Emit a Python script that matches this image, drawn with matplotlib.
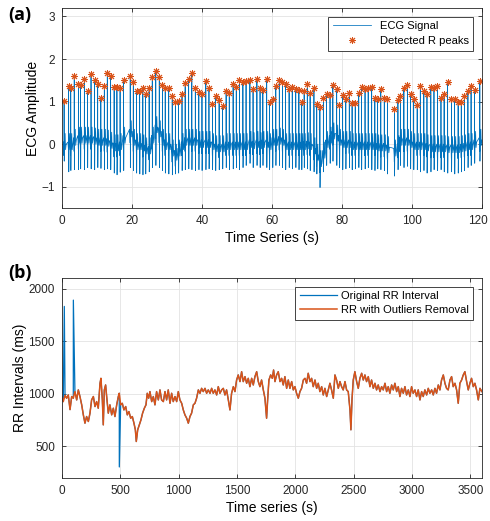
import numpy as np
import matplotlib
matplotlib.use('Agg')
import matplotlib.pyplot as plt
import matplotlib.transforms as mtransforms

plt.rcParams['font.family'] = ['Liberation Sans', 'DejaVu Sans']

# (a) ECG: detected R peaks, baseline and S-wave dip per beat
r_t = [0.6, 1.9, 2.5, 3.5, 4.7, 5.3, 6.4, 7.3, 8.3, 9.3, 10.2, 11.1, 12.1, 12.95,
       13.9, 14.9, 15.7, 16.6, 17.6, 19.5, 20.4, 21.3, 22.2, 23.1, 23.9,
       24.9, 25.8, 26.8, 27.8, 28.7, 29.5, 30.5, 31.5, 32.4, 33.3,
       34.3, 35.2, 36.2, 37.1, 38.1, 39.1, 40.0, 41.1, 42.0, 43.0,
       43.9, 44.9, 45.9, 46.9, 47.8, 48.9, 49.8, 50.7, 51.7,
       52.6, 53.7, 54.6, 55.7, 56.6, 57.4, 58.5, 59.3,
       60.2, 61.1, 62.1, 63.0, 63.9, 64.9, 65.8, 66.8, 67.7,
       68.5, 69.2, 70.1, 70.9, 72.0, 72.8, 73.7, 74.7, 75.6,
       76.6, 77.4, 78.5, 79.3, 80.2, 81.1, 82.1, 82.9, 83.8,
       84.8, 85.6, 86.6, 87.5, 88.5, 89.4, 90.2, 91.1, 92.1,
       93.0, 95.0, 96.0, 96.7, 97.7, 98.7, 99.6, 100.5,
       101.5, 102.4, 103.4, 104.3, 105.4, 106.3, 107.3, 108.3, 109.2,
       110.2, 111.3, 112.2, 113.2, 114.1, 115.0, 116.0, 116.9, 117.9, 119.4]
r_amp = [1.02, 1.37, 1.33, 1.61, 1.41, 1.39, 1.53, 1.25, 1.65, 1.50, 1.41, 1.08, 1.37, 1.68,
         1.59, 1.35, 1.35, 1.33, 1.50, 1.59, 1.46, 1.24, 1.24, 1.31, 1.19,
         1.32, 1.58, 1.72, 1.58, 1.39, 1.31, 1.31, 1.13, 0.98, 1.02,
         1.17, 1.43, 1.54, 1.68, 1.31, 1.23, 1.17, 1.49, 1.31, 0.94,
         1.13, 1.04, 0.90, 1.24, 1.20, 1.41, 1.35, 1.51, 1.46,
         1.49, 1.50, 1.29, 1.53, 1.31, 1.28, 1.53, 0.98,
         1.07, 1.37, 1.51, 1.46, 1.41, 1.29, 1.35, 1.29, 1.28,
         0.98, 1.25, 1.41, 1.21, 1.31, 0.95, 0.88, 1.08, 1.17,
         1.16, 1.39, 1.29, 0.91, 1.15, 1.07, 1.21, 0.96, 0.96,
         1.20, 1.35, 1.29, 1.33, 1.35, 1.08, 1.07, 1.29, 1.08,
         1.07, 0.83, 1.04, 1.13, 1.31, 1.40, 1.17, 1.06,
         0.92, 1.37, 1.24, 1.19, 1.35, 1.31, 1.37, 1.08, 1.17,
         1.45, 1.07, 1.07, 0.99, 0.99, 1.13, 1.24, 1.37, 1.28, 1.49]
ecg_base = [-0.05, -0.05, -0.05, 0.05, 0.1, 0.1, 0.1, 0.1, 0.1, 0.08, 0.05, 0.05, 0.05, 0.03,
            -0.02, -0.08, -0.08, -0.05, 0.1, 0.25, 0.05, -0.05, -0.05, -0.08, -0.15,
            -0.15, 0.1, 0.35, 0.25, 0.05, -0.05, -0.05, -0.2, -0.3, -0.2,
            -0.05, 0.05, 0.05, 0.05, 0.05, 0.0, 0.0, 0.0, 0.0, -0.05,
            -0.1, -0.1, -0.1, -0.05, -0.05, -0.05, -0.05, -0.05, -0.05,
            -0.05, 0.0, -0.03, 0.0, -0.03, 0.0, 0.0, -0.05,
            0.05, 0.05, 0.08, 0.05, -0.05, -0.05, -0.05, -0.05, -0.05,
            -0.05, -0.05, -0.03, -0.05, -0.15, -0.3, -0.45, -0.25, 0.0,
            0.1, 0.2, 0.15, 0.05, 0.0, 0.0, 0.0, -0.05, -0.05,
            -0.05, -0.05, -0.05, -0.05, -0.05, -0.05, -0.08, -0.08, -0.08,
            -0.12, -0.2, -0.1, 0.05, 0.05, 0.05, 0.0, -0.05,
            -0.05, -0.05, -0.05, -0.08, -0.1, -0.1, -0.1, -0.1, -0.1,
            -0.12, -0.12, -0.12, -0.12, -0.1, -0.08, -0.05, -0.05, 0.0, 0.05]
ecg_dip = [-0.4, -0.65, -0.62, -0.6, -0.6, -0.58, -0.6, -0.55, -0.58, -0.6, -0.55, -0.57, -0.6, -0.58,
           -0.6, -0.68, -0.72, -0.66, -0.62, -0.55, -0.62, -0.68, -0.7, -0.72, -0.7,
           -0.65, -0.55, -0.5, -0.55, -0.62, -0.68, -0.7, -0.72, -0.7, -0.68,
           -0.62, -0.6, -0.58, -0.6, -0.62, -0.6, -0.62, -0.6, -0.58, -0.6,
           -0.62, -0.6, -0.58, -0.55, -0.6, -0.58, -0.55, -0.6, -0.55,
           -0.5, -0.45, -0.55, -0.5, -0.55, -0.5, -0.55, -0.6,
           -0.55, -0.5, -0.5, -0.55, -0.6, -0.55, -0.58, -0.55, -0.6,
           -0.6, -0.55, -0.58, -0.62, -0.65, -0.7, -1.02, -0.65, -0.5,
           -0.45, -0.4, -0.5, -0.55, -0.6, -0.58, -0.55, -0.6, -0.58,
           -0.55, -0.6, -0.58, -0.55, -0.6, -0.62, -0.58, -0.6, -0.62,
           -0.7, -0.75, -0.6, -0.5, -0.55, -0.52, -0.58, -0.6,
           -0.6, -0.65, -0.62, -0.68, -0.65, -0.6, -0.62, -0.6, -0.65,
           -0.68, -0.65, -0.7, -0.68, -0.65, -0.62, -0.55, -0.5, -0.45, -0.4]

# (b) RR intervals (s, ms), plus the removed outliers
rr_t = [0, 11, 26, 40, 54, 69, 83, 97, 111, 126, 140, 154, 169, 183, 197, 211, 226, 240,
        254, 269, 283, 297, 311, 326, 334, 346, 354, 363, 374, 383, 397, 411, 426, 440,
        454, 469, 483, 491, 503, 517, 531, 546, 560, 574, 589, 603, 617, 629, 637, 649,
        663, 677, 691, 706, 720, 731, 743, 754, 769, 783, 797, 811, 826, 840, 854, 869,
        883, 897, 911, 926, 940, 954, 969, 983, 997, 1011, 1026, 1040, 1054, 1069, 1083,
        1097, 1111, 1126, 1140, 1154, 1169, 1183, 1197, 1211, 1226, 1240, 1254, 1269,
        1283, 1297, 1311, 1326, 1340, 1354, 1369, 1383, 1397, 1411, 1426, 1440, 1454,
        1469, 1483, 1497, 1511, 1526, 1540, 1554, 1569, 1583, 1597, 1611, 1626, 1640,
        1654, 1669, 1683, 1697, 1711, 1726, 1740, 1754, 1763, 1774, 1789, 1803, 1814,
        1826, 1840, 1854, 1869, 1883, 1897, 1911, 1926, 1940, 1954, 1969, 1983, 1997,
        2011, 2026, 2040, 2054, 2069, 2083, 2097, 2111, 2126, 2140, 2154, 2169, 2183,
        2197, 2211, 2226, 2240, 2254, 2269, 2283, 2297, 2311, 2326, 2340, 2354, 2369,
        2383, 2397, 2411, 2426, 2440, 2454, 2469, 2477, 2486, 2497, 2511, 2526, 2540,
        2554, 2569, 2583, 2597, 2611, 2626, 2640, 2654, 2669, 2683, 2697, 2711, 2726,
        2740, 2754, 2769, 2783, 2797, 2811, 2826, 2840, 2854, 2869, 2883, 2897, 2911,
        2926, 2940, 2954, 2969, 2983, 2997, 3011, 3026, 3040, 3054, 3069, 3083, 3097,
        3111, 3126, 3140, 3154, 3169, 3183, 3197, 3211, 3226, 3240, 3254, 3269, 3283,
        3297, 3311, 3326, 3340, 3354, 3369, 3383, 3397, 3411, 3426, 3440, 3454, 3469,
        3483, 3497, 3511, 3526, 3540, 3554, 3569, 3583, 3600]
rr_ms = [974, 926, 985, 958, 989, 850, 974, 958, 1021, 942, 1037, 974, 895, 800, 721, 784, 737, 816,
         942, 974, 879, 926, 863, 1100, 1147, 942, 705, 1037, 1084, 974, 816, 895, 800, 863,
         784, 895, 974, 1005, 895, 910, 847, 879, 800, 831, 768, 784, 721, 658, 547, 658,
         705, 752, 816, 863, 895, 1005, 958, 1021, 926, 974, 895, 1021, 942, 1037, 942, 926,
         1021, 942, 1037, 910, 1005, 926, 974, 926, 1021, 942, 910, 847, 800, 768, 721,
         784, 816, 895, 910, 958, 1037, 1005, 1052, 1021, 1052, 1005, 1037, 1005,
         1052, 1005, 1037, 989, 1068, 1005, 1037, 1052, 989, 1037, 942, 847, 1005,
         1068, 1021, 1131, 1179, 1116, 1210, 1116, 1163, 1100, 1147, 1068, 1147, 1084,
         1163, 1210, 1116, 1068, 1131, 1037, 958, 768, 942, 1131, 1179, 1147, 1226,
         1116, 1179, 1210, 1116, 1147, 1084, 1163, 1052, 1131, 1052, 1116, 1037, 1068,
         1005, 958, 1021, 1052, 1131, 1147, 1100, 1195, 1116, 1147, 1068, 1131, 1052,
         1100, 1021, 1068, 989, 1052, 974, 1037, 1100, 1037, 958, 1179, 1131, 1052,
         1116, 1068, 1037, 1116, 1037, 1021, 847, 658, 942, 1131, 1210, 1116, 1052,
         1147, 1195, 1131, 1179, 1116, 1163, 1068, 1131, 1052, 1100, 1037, 1084, 1021,
         1068, 1037, 1100, 1021, 1068, 1005, 1084, 1037, 1100, 1021, 1068, 974, 1052,
         1005, 1068, 989, 1037, 974, 1068, 1005, 1037, 974, 1037, 942, 1021, 974,
         1037, 989, 1052, 1005, 1037, 989, 1052, 1005, 1084, 1037, 1131, 1179, 1100,
         1052, 1037, 1131, 1163, 1068, 1100, 1037, 910, 1100, 1131, 1179, 1210, 1116,
         1037, 1100, 1147, 1068, 1100, 1037, 942, 1052, 1021]
outlier_t = [20, 97.5, 491.5]
outlier_ms = [1830, 1890, 305]

BLUE = '#0072BD'
ORANGE = '#D95319'


def matlab_axes(ax):
    ax.grid(True, color='#e3e3e3', linewidth=0.6)
    ax.set_axisbelow(True)
    for s in ax.spines.values():
        s.set_color('#262626')
        s.set_linewidth(0.6)
    ax.tick_params(direction='in', length=3, width=0.6, top=True, right=True,
                   labelsize=8.5, colors='#262626', pad=5)


fig = plt.figure(figsize=(4.9, 5.21), dpi=100)

# (a)
ax1 = fig.add_axes([0.1265, 0.6008, 0.857, 0.3839])
ecg_t, ecg_v = [], []
for t, p, b, d in zip(r_t, r_amp, ecg_base, ecg_dip):
    # P, Q, R, S, ST, T waves of one beat
    ecg_t += [t - 0.2, t - 0.08, t - 0.03, t, t + 0.04, t + 0.09, t + 0.2, t + 0.3, t + 0.42, t + 0.6]
    ecg_v += [b + 0.1, b - 0.05, b - 0.22, p, d, b - 0.12, b + 0.1, b + 0.3, b - 0.08, b + 0.05]
ax1.plot(ecg_t, ecg_v, color=BLUE, linewidth=0.55, label='ECG Signal')
ax1.plot(r_t, r_amp, linestyle='none', marker=(8, 2, 0), markersize=5,
         markeredgewidth=0.7, color=ORANGE, label='Detected R peaks')
ax1.set_xlim(0, 120)
ax1.set_ylim(-1.5, 3.2)
ax1.set_xticks(np.arange(0, 121, 20))
ax1.set_yticks([-1, 0, 1, 2, 3])
ax1.set_xlabel('Time Series (s)', fontsize=10, labelpad=3)
ax1.set_ylabel('ECG Amplitude', fontsize=10, labelpad=1)
matlab_axes(ax1)
leg = ax1.legend(loc='upper right', fontsize=8, handlelength=3.4, framealpha=1,
                 fancybox=False, edgecolor='#262626', borderaxespad=0.8,
                 labelspacing=0.45)
leg.get_frame().set_linewidth(0.6)
# keep the last tick label inside the figure, as in the original
last = ax1.get_xticklabels()[-1]
last.set_transform(last.get_transform() +
                   mtransforms.ScaledTranslation(-4 / 100, 0, fig.dpi_scale_trans))

# (b)
ax2 = fig.add_axes([0.1265, 0.0825, 0.857, 0.3839])
orig_t = np.concatenate([rr_t, outlier_t])
orig_ms = np.concatenate([rr_ms, outlier_ms])
order = np.argsort(orig_t)
ax2.plot(orig_t[order], orig_ms[order], color=BLUE, linewidth=0.9,
         label='Original RR Interval')
ax2.plot(rr_t, rr_ms, color=ORANGE, linewidth=1.1, label='RR with Outliers Removal')
ax2.set_xlim(0, 3600)
ax2.set_ylim(200, 2100)
ax2.set_xticks(np.arange(0, 3501, 500))
ax2.set_yticks([500, 1000, 1500, 2000])
ax2.set_xlabel('Time series (s)', fontsize=10, labelpad=3)
ax2.set_ylabel('RR Intervals (ms)', fontsize=10, labelpad=1)
matlab_axes(ax2)
leg = ax2.legend(loc='upper right', fontsize=8, handlelength=3.4, framealpha=1,
                 fancybox=False, edgecolor='#262626', borderaxespad=0.8,
                 labelspacing=0.35, handletextpad=0.3)
leg.get_frame().set_linewidth(0.6)

fig.text(0.016, 0.962, '(a)', fontsize=13, fontweight='bold', family='Open Sans')
fig.text(0.016, 0.466, '(b)', fontsize=13, fontweight='bold', family='Open Sans')

fig.savefig('out.png', dpi=100)
